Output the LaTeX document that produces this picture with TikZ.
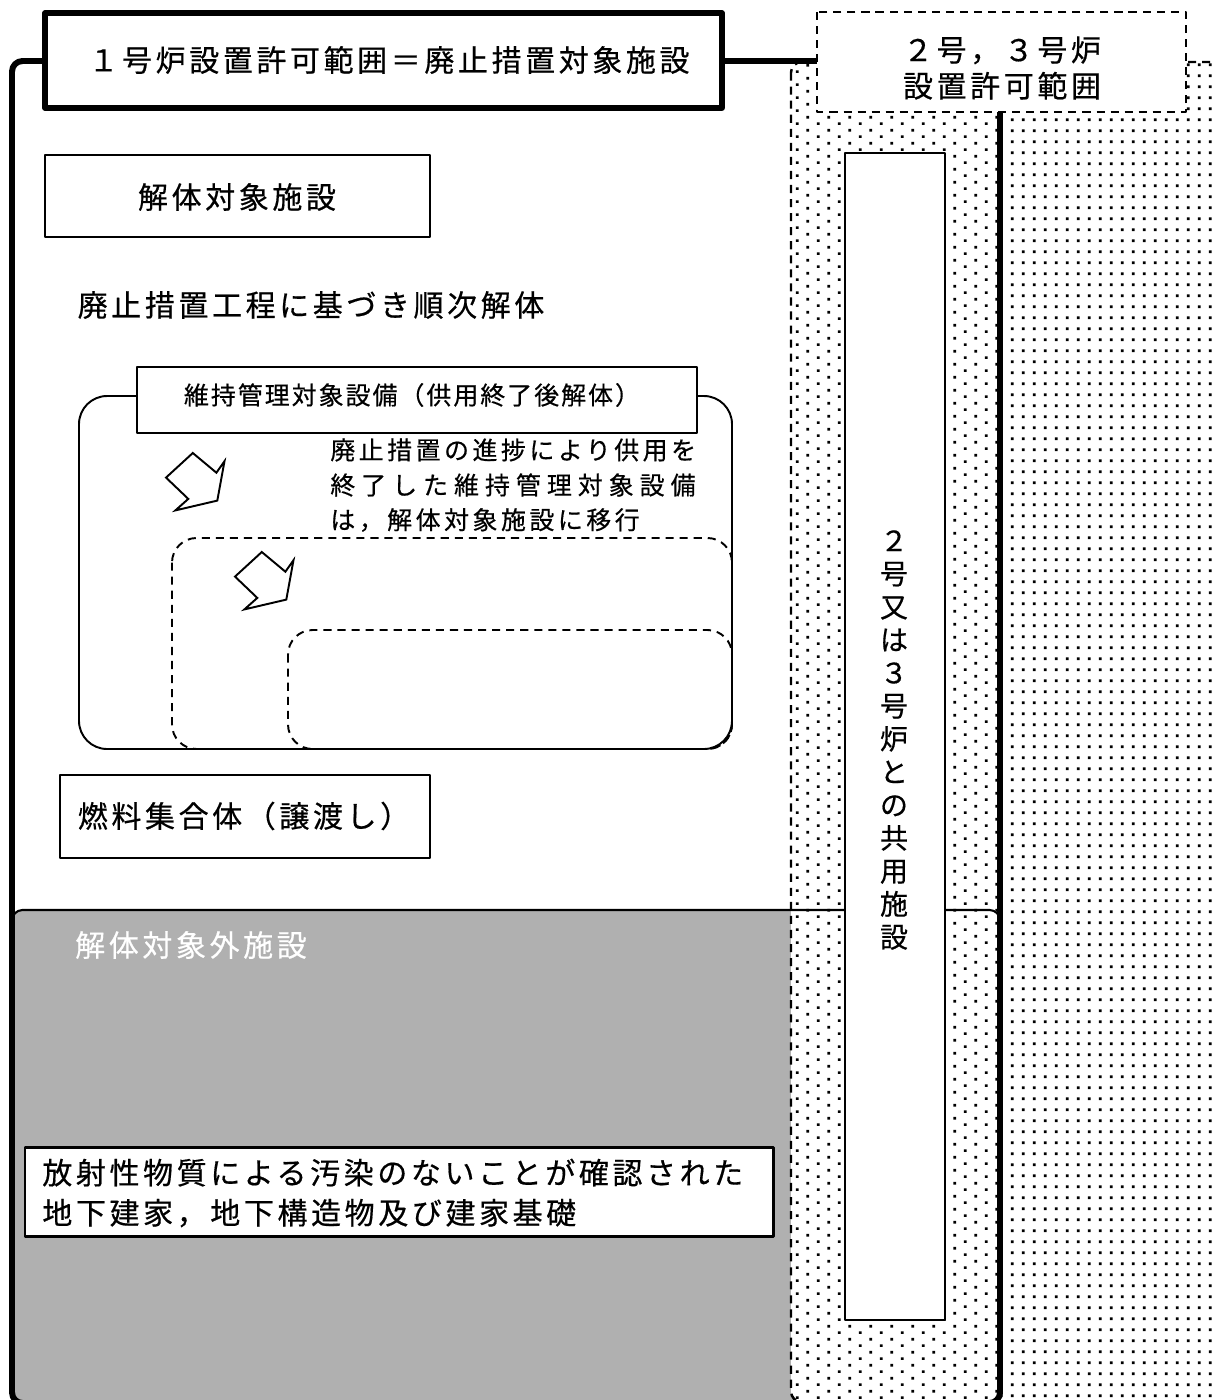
\documentclass[tikz,border=0pt]{standalone}
\usepackage{fontspec}
\newfontfamily\jpfont[LetterSpace=12,FakeBold=0.5]{Noto Sans CJK JP}
\newfontfamily\jpsmall[LetterSpace=14,FakeBold=0.5]{Noto Sans CJK JP}
\newfontfamily\jpwide[LetterSpace=24,FakeBold=0.5]{Noto Sans CJK JP}
\newfontfamily\jpnarrow[LetterSpace=8,FakeBold=0.5]{Noto Sans CJK JP}
\newfontfamily\jpplain[FakeBold=0.5]{Noto Sans CJK JP}
\usetikzlibrary{patterns}
\definecolor{offgray}{HTML}{B0B0B0}

% dot screens of the unit 2/3 area
\pgfdeclarepatternformonly{griddots}{\pgfqpoint{0pt}{0pt}}{\pgfqpoint{6.1pt}{6.1pt}}{\pgfqpoint{6.1pt}{6.1pt}}{%
  \pgfpathrectangle{\pgfqpoint{2.3pt}{2.3pt}}{\pgfqpoint{1.6pt}{1.6pt}}\pgfusepath{fill}}
\pgfdeclarepatternformonly{stagdots}{\pgfqpoint{0pt}{0pt}}{\pgfqpoint{12.2pt}{7.6pt}}{\pgfqpoint{12.2pt}{7.6pt}}{%
  \pgfpathrectangle{\pgfqpoint{2.3pt}{1.2pt}}{\pgfqpoint{1.6pt}{1.6pt}}%
  \pgfpathrectangle{\pgfqpoint{8.4pt}{5pt}}{\pgfqpoint{1.6pt}{1.6pt}}\pgfusepath{fill}}

\begin{document}
\begin{tikzpicture}[x=0.02cm,y=-0.02cm,line join=round,
  lbl/.style={font=\jpfont\fontsize{17.07pt}{20pt}\selectfont, inner sep=0pt},
  small lbl/.style={font=\jpsmall\fontsize{14.2pt}{17pt}\selectfont, inner sep=0pt, anchor=west},
  thinbox/.style={draw=black, line width=1.1pt, fill=white},
  rangeline/.style={draw=black, line width=3.4pt, rounded corners=6pt},
  dashline/.style={draw=black, line width=1.4pt, dash pattern=on 4.6pt off 3.4pt},
  shiftarrow/.style={draw=black, line width=1.1pt, fill=white, line join=miter}]
\useasboundingbox (0,0) rectangle (1214,1400);
\clip (0,0) rectangle (1214,1400);

% outside the demolition scope
\fill[offgray, rounded corners=6pt] (12,910) rectangle (1000,1403);

% units 2 and 3
\begin{scope}
  \clip[rounded corners=6pt] (791,62) rectangle (1240,1402);
  \fill[white] (791,62) rectangle (1240,1420);
  \fill[pattern=stagdots] (791,62) rectangle (1000,1420);
  \fill[pattern=griddots] (1000,62) rectangle (1240,1420);
\end{scope}
\draw[dashline, rounded corners=6pt] (791,62) rectangle (1240,1402);

\draw[line width=1.2pt, rounded corners=6pt] (12,910) rectangle (1000,1403);
\draw[rangeline] (12,61) rectangle (1000,1403);

% titles
\draw[thinbox, line width=2.9pt] (45,13) rectangle (722,108);
\node[lbl] (title) at (389,60) {１号炉設置許可範囲＝廃止措置対象施設};
\draw[dashline, fill=white] (817,12) rectangle (1186,112);
\node[lbl, align=center, font=\jpfont\fontsize{17.07pt}{20.5pt}\selectfont] (units) at (1002,68) {２号，３号炉\\設置許可範囲};

% shared facilities
\draw[thinbox] (845,153) rectangle (945,1320);
\node[lbl, align=center, font=\jpplain\fontsize{15.93pt}{18.8pt}\selectfont] (shared) at (894,740)
  {２\\号\\又\\は\\３\\号\\炉\\と\\の\\共\\用\\施\\設};

% demolition targets
\draw[thinbox] (45,155) rectangle (430,237);
\node[lbl] (demol) at (237,197) {解体対象施設};
\node[lbl] (order) at (311,305) {廃止措置工程に基づき順次解体};

\draw[line width=1.1pt, rounded corners=16pt] (79,396) rectangle (732,749);
\draw[dashline, line width=1.1pt, rounded corners=14pt] (172,538) rectangle (732,749);
\draw[dashline, line width=1.1pt, rounded corners=14pt] (288,630) rectangle (732,749);
\draw[thinbox] (137,367) rectangle (697,433);
\node[lbl, font=\jpnarrow\fontsize{14.2pt}{17pt}\selectfont] (maint) at (412,395) {維持管理対象設備（供用終了後解体）};

\node[small lbl] (move1) at (330,450) {廃止措置の進捗により供用を};
\node[small lbl, font=\jpwide\fontsize{14.2pt}{17pt}\selectfont] (move2) at (330,485) {終了した維持管理対象設備};
\node[small lbl] (move3) at (330,520) {は，解体対象施設に移行};

\foreach \ax/\ay in {166/453, 235/552}
  \draw[shiftarrow, shift={(\ax,\ay)}] (26.8,0) -- (50.4,19.7) -- (58.5,8.2) -- (51.3,47.6)
    -- (9.4,57.4) -- (22.3,45.9) -- (0,24.6) -- cycle;

\draw[thinbox] (60,775) rectangle (430,858);
\node[lbl] (fuel) at (244,816) {燃料集合体（譲渡し）};

% not demolished
\node[lbl, text=white] (keep) at (191,945) {解体対象外施設};
\draw[thinbox, line width=1.7pt] (25,1147) rectangle (773,1236);
\node[lbl, anchor=west, align=left, font=\jpfont\fontsize{17.07pt}{22.8pt}\selectfont] (clean) at (42,1193)
  {放射性物質による汚染のないことが確認された\\地下建家，地下構造物及び建家基礎};
\end{tikzpicture}
\end{document}
